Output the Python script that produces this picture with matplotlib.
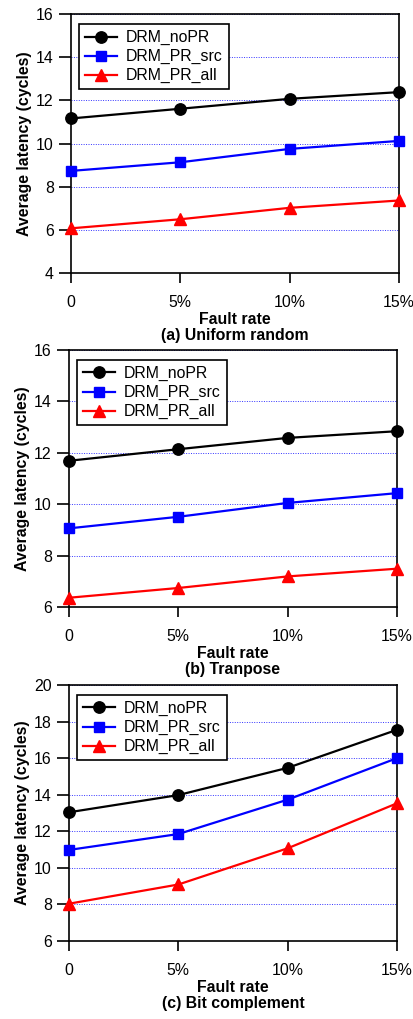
import matplotlib
matplotlib.use("Agg")
import matplotlib.pyplot as plt

plt.rcParams['font.family'] = ['Liberation Sans', 'DejaVu Sans']

fault_rates = [0, 5, 10, 15]
xtick_labels = ["0", "5%", "10%", "15%"]
series_names = ["DRM_noPR", "DRM_PR_src", "DRM_PR_all"]

uniform_noPR = [11.16, 11.61, 12.07, 12.38]
uniform_src = [8.73, 9.13, 9.75, 10.12]
uniform_all = [6.07, 6.49, 7.02, 7.36]

transpose_noPR = [11.69, 12.14, 12.58, 12.84]
transpose_src = [9.06, 9.51, 10.05, 10.43]
transpose_all = [6.36, 6.74, 7.19, 7.49]

bitcomp_noPR = [13.04, 13.98, 15.47, 17.55]
bitcomp_src = [10.98, 11.85, 13.73, 16.0]
bitcomp_all = [8.04, 9.09, 11.07, 13.53]

titles = ["(a) Uniform random", "(b) Tranpose", "(c) Bit complement"]
ylims = [(4, 16), (6, 16), (6, 20)]

panels = [
    (uniform_noPR, uniform_src, uniform_all),
    (transpose_noPR, transpose_src, transpose_all),
    (bitcomp_noPR, bitcomp_src, bitcomp_all),
]

styles = [
    dict(color="black", marker="o", markersize=8.2),
    dict(color="#0000ff", marker="s", markersize=7.4),
    dict(color="#ff0000", marker="^", markersize=8.0),
]

W, H = 414, 1019
fig = plt.figure(figsize=(W / 100, H / 100), dpi=100)

rects = [
    (71, 14, 399, 273),
    (69, 350, 397, 607),
    (69, 685, 397, 941),
]

FS = 11.4

for i, (data, title, ylim, r) in enumerate(zip(panels, titles, ylims, rects)):
    x0, y0, x1, y1 = r
    ax = fig.add_axes([x0 / W, 1 - y1 / H, (x1 - x0) / W, (y1 - y0) / H])
    for name, vals, st in zip(series_names, data, styles):
        ax.plot(fault_rates, vals, label=name, linewidth=1.6, clip_on=False,
                zorder=3, **st)
    ax.set_xlim(0, 15)
    ax.set_ylim(*ylim)
    ax.set_xticks(fault_rates)
    ax.set_xticklabels(xtick_labels)
    ax.set_yticks(range(ylim[0], ylim[1] + 1, 2))
    ax.grid(axis='y', color='#0000ff', linestyle=(0, (1, 1.5)), linewidth=0.7, alpha=0.8)
    ax.set_axisbelow(True)
    ax.tick_params(axis='y', direction='out', length=8.5, width=1.2, labelsize=FS, pad=4)
    ax.tick_params(axis='x', direction='out', length=7, width=1.2, labelsize=FS, pad=9)
    for s in ax.spines.values():
        s.set_linewidth(1.2)
    ax.set_ylabel("Average latency (cycles)", fontsize=FS, fontweight='bold', labelpad=3)
    ax.set_xlabel("Fault rate\n" + title, fontsize=FS, fontweight='bold', labelpad=1,
                  linespacing=1.12)
    leg = ax.legend(loc='upper left', bbox_to_anchor=(0.024, 0.961), borderaxespad=0,
                    fontsize=FS, frameon=True, fancybox=False, handlelength=2.0,
                    handletextpad=0.6, labelspacing=0.25, borderpad=0.38)
    leg.get_frame().set_edgecolor('black')
    leg.get_frame().set_linewidth(1.2)
    leg.get_frame().set_alpha(1)

fig.savefig("out.png", dpi=100)
